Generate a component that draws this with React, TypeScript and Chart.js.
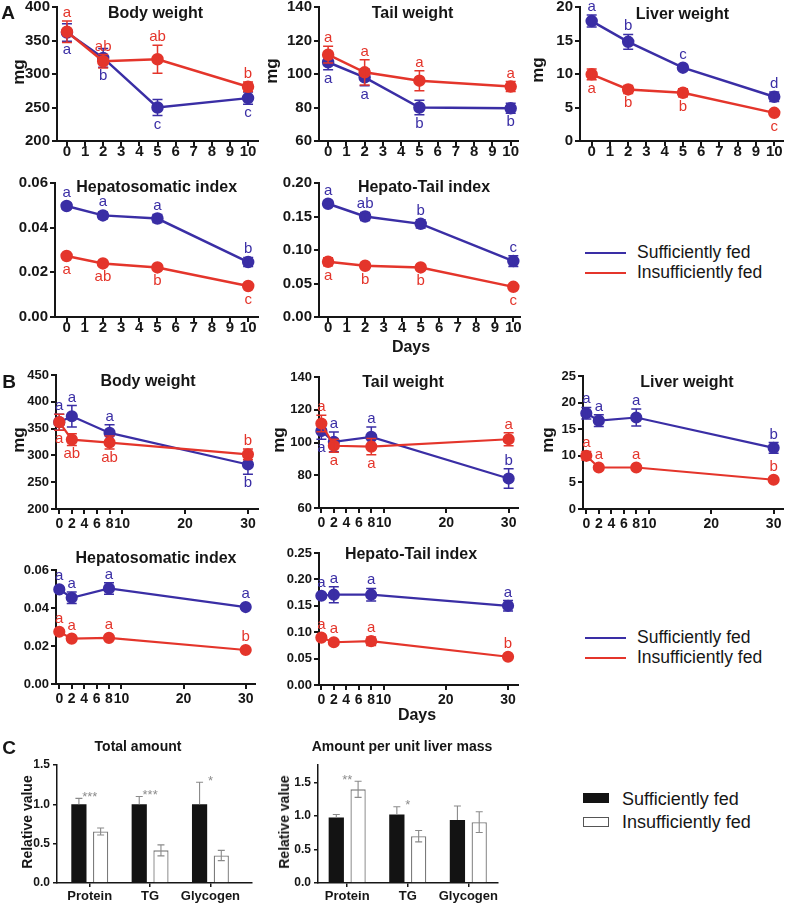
import React, { useEffect, useRef } from 'react';
import { Chart, registerables } from 'chart.js';

Chart.register(...registerables);

const FONT = '"Liberation Sans", Arial, Helvetica, sans-serif';
Chart.defaults.font.family = FONT;
const BLUE = '#3a2ea5';
const RED = '#e4352b';
const INK = '#161616';

// ---------------- data ----------------
const daysA = [0, 2, 5, 10];
const daysB = [0, 2, 8, 30];
const xTicksA = [0, 1, 2, 3, 4, 5, 6, 7, 8, 9, 10];
const xTicksB = [0, 2, 4, 6, 8, 10, 20, 30];

const yTicksBodyA = [200, 250, 300, 350, 400];
const yTicksTail = [60, 80, 100, 120, 140];
const yTicksLiverA = [0, 5, 10, 15, 20];
const yTicksHsi = [0, 0.02, 0.04, 0.06];
const yTicksHtiA = [0, 0.05, 0.1, 0.15, 0.2];
const yTicksBodyB = [200, 250, 300, 350, 400, 450];
const yTicksLiverB = [0, 5, 10, 15, 20, 25];
const yTicksHtiB = [0, 0.05, 0.1, 0.15, 0.2, 0.25];
const yTicksBar = [0, 0.5, 1.0, 1.5];

// A – body weight
const bodyA_suf = [362, 324, 250, 264];
const bodyA_sufErr = [13, 14, 12, 9];
const bodyA_sufLet = ['a', 'b', 'c', 'c'];
const bodyA_sufPos = ['d', 'd', 'd', 'd'];
const bodyA_ins = [363, 319, 322, 281];
const bodyA_insErr = [16, 10, 21, 7];
const bodyA_insLet = ['a', 'ab', 'ab', 'b'];
const bodyA_insPos = ['u', 'u', 'u', 'u'];
// A – tail weight
const tailA_suf = [107, 98, 80, 79.5];
const tailA_sufErr = [4.4, 5, 4.4, 3];
const tailA_sufLet = ['a', 'a', 'b', 'b'];
const tailA_sufPos = ['d', 'd', 'd', 'd'];
const tailA_ins = [111.5, 101, 96, 92.5];
const tailA_insErr = [5, 7.5, 6, 3];
const tailA_insLet = ['a', 'a', 'a', 'a'];
const tailA_insPos = ['u', 'u', 'u', 'u'];
// A – liver weight
const liverA_suf = [17.9, 14.8, 10.95, 6.6];
const liverA_sufErr = [0.9, 1.1, 0.4, 0.7];
const liverA_sufLet = ['a', 'b', 'c', 'd'];
const liverA_sufPos = ['u', 'u', 'u', 'u'];
const liverA_ins = [9.95, 7.7, 7.2, 4.2];
const liverA_insErr = [0.8, 0.6, 0.6, 0.3];
const liverA_insLet = ['a', 'b', 'b', 'c'];
const liverA_insPos = ['d', 'd', 'd', 'd'];
// A – hepatosomatic index
const hsiA_suf = [0.0497, 0.0455, 0.0441, 0.0246];
const hsiA_sufErr = [0.0015, 0.0015, 0.0018, 0.002];
const hsiA_sufLet = ['a', 'a', 'a', 'b'];
const hsiA_sufPos = ['u', 'u', 'u', 'u'];
const hsiA_ins = [0.0273, 0.024, 0.0222, 0.0139];
const hsiA_insErr = [0.0008, 0.0006, 0.0006, 0.0005];
const hsiA_insLet = ['a', 'ab', 'b', 'c'];
const hsiA_insPos = ['d', 'd', 'd', 'd'];
// A – hepato-tail index
const htiA_suf = [0.169, 0.15, 0.139, 0.0835];
const htiA_sufErr = [0.004, 0.006, 0.006, 0.008];
const htiA_sufLet = ['a', 'ab', 'b', 'c'];
const htiA_sufPos = ['u', 'u', 'u', 'u'];
const htiA_ins = [0.0825, 0.0765, 0.074, 0.045];
const htiA_insErr = [0.006, 0.003, 0.003, 0.003];
const htiA_insLet = ['a', 'b', 'b', 'c'];
const htiA_insPos = ['d', 'd', 'd', 'd'];

// B – body weight
const bodyB_suf = [362, 373, 342, 283];
const bodyB_sufErr = [15, 20, 15, 18];
const bodyB_sufLet = ['a', 'a', 'a', 'b'];
const bodyB_sufPos = ['u', 'u', 'u', 'd'];
const bodyB_ins = [362, 329.5, 324, 302];
const bodyB_insErr = [15, 11, 12, 10];
const bodyB_insLet = ['a', 'ab', 'ab', 'b'];
const bodyB_insPos = ['d', 'd', 'd', 'u'];
// B – tail weight
const tailB_suf = [107, 100.4, 103.4, 78];
const tailB_sufErr = [5, 6, 6, 6];
const tailB_sufLet = ['a', 'a', 'a', 'b'];
const tailB_sufPos = ['d', 'u', 'u', 'u'];
const tailB_ins = [111.6, 98, 97.5, 102];
const tailB_insErr = [5, 4, 5, 4];
const tailB_insLet = ['a', 'a', 'a', 'a'];
const tailB_insPos = ['u', 'd', 'd', 'u'];
// B – liver weight
const liverB_suf = [18, 16.6, 17.2, 11.5];
const liverB_sufErr = [1.1, 1.1, 1.6, 1.0];
const liverB_sufLet = ['a', 'a', 'a', 'b'];
const liverB_sufPos = ['u', 'u', 'u', 'u'];
const liverB_ins = [10, 7.8, 7.8, 5.5];
const liverB_insErr = [0.8, 0.3, 0.3, 0.3];
const liverB_insLet = ['a', 'a', 'a', 'b'];
const liverB_insPos = ['u', 'u', 'u', 'u'];
// B – hepatosomatic index
const hsiB_suf = [0.0498, 0.0454, 0.0503, 0.0405];
const hsiB_sufErr = [0.001, 0.003, 0.003, 0.001];
const hsiB_sufLet = ['a', 'a', 'a', 'a'];
const hsiB_sufPos = ['u', 'u', 'u', 'u'];
const hsiB_ins = [0.0275, 0.0239, 0.0243, 0.0179];
const hsiB_insErr = [0.0008, 0.0006, 0.0006, 0.0005];
const hsiB_insLet = ['a', 'a', 'a', 'b'];
const hsiB_insPos = ['u', 'u', 'u', 'u'];
// B – hepato-tail index
const htiB_suf = [0.169, 0.171, 0.171, 0.15];
const htiB_sufErr = [0.004, 0.015, 0.012, 0.01];
const htiB_sufLet = ['a', 'a', 'a', 'a'];
const htiB_sufPos = ['u', 'u', 'u', 'u'];
const htiB_ins = [0.0898, 0.081, 0.083, 0.0535];
const htiB_insErr = [0.004, 0.003, 0.008, 0.002];
const htiB_insLet = ['a', 'a', 'a', 'b'];
const htiB_insPos = ['u', 'u', 'u', 'u'];

// C – bars
const barCats = ['Protein', 'TG', 'Glycogen'];
const total_suf = [1.0, 1.0, 1.0];
const total_sufErr = [0.076, 0.1, 0.28];
const total_ins = [0.655, 0.415, 0.35];
const total_insErr = [0.045, 0.07, 0.065];
const total_stars = ['***', '***', '*'];
const per_suf = [0.98, 1.025, 0.94];
const per_sufErr = [0.045, 0.115, 0.21];
const per_ins = [1.4, 0.7, 0.91];
const per_insErr = [0.12, 0.085, 0.155];
const per_stars = ['**', '*', ''];

// ---------------- plugin ----------------
const annotPlugin: any = {
  id: 'annot',
  afterDatasetDraw(chart: any, args: any) {
    const ds = chart.data.datasets[args.index];
    if (!ds.errors) return;
    const ys = chart.scales.y;
    const ctx = chart.ctx;
    ctx.save();
    ctx.strokeStyle = ds.errColor;
    ctx.lineWidth = ds.errWidth;
    args.meta.data.forEach((el: any, i: number) => {
      const v = ds.data[i].y;
      const e = ds.errors[i];
      const x = el.x;
      const yt = ys.getPixelForValue(v + e);
      const yb = ys.getPixelForValue(v - e);
      const yc = ys.getPixelForValue(v);
      const cw = ds.capHalf;
      ctx.beginPath();
      ctx.moveTo(x, yt);
      ctx.lineTo(x, ds.errMode === 'up' ? yc : yb);
      ctx.moveTo(x - cw, yt);
      ctx.lineTo(x + cw, yt);
      if (ds.errMode !== 'up') {
        ctx.moveTo(x - cw, yb);
        ctx.lineTo(x + cw, yb);
      }
      ctx.stroke();
    });
    ctx.restore();
  },
  afterDatasetsDraw(chart: any, _a: any, opts: any) {
    const ctx = chart.ctx;
    const ys = chart.scales.y;
    const xs = chart.scales.x;
    ctx.save();
    chart.data.datasets.forEach((ds: any, di: number) => {
      if (!ds.letters) return;
      const meta = chart.getDatasetMeta(di);
      ctx.font = `${opts.letterSize || 15}px ${FONT}`;
      ctx.textAlign = 'center';
      ctx.textBaseline = 'alphabetic';
      ctx.fillStyle = ds.borderColor;
      meta.data.forEach((el: any, i: number) => {
        const v = ds.data[i].y;
        const e = ds.errors[i];
        const r = ds.pointRadius || 0;
        const yc = ys.getPixelForValue(v);
        if (ds.letterPos[i] === 'u') {
          const top = Math.min(ys.getPixelForValue(v + e), yc - r);
          ctx.fillText(ds.letters[i], el.x, top - 4);
        } else {
          const bot = Math.max(ys.getPixelForValue(v - e), yc + r);
          ctx.fillText(ds.letters[i], el.x, bot + 13);
        }
      });
    });
    if (opts.stars) {
      ctx.font = `13px ${FONT}`;
      ctx.fillStyle = '#8c8c8c';
      ctx.textAlign = 'center';
      ctx.textBaseline = 'alphabetic';
      opts.stars.forEach((s: string, i: number) => {
        if (!s) return;
        let top = Infinity;
        chart.data.datasets.forEach((ds: any) => {
          top = Math.min(top, ys.getPixelForValue(ds.data[i].y + ds.errors[i]));
        });
        const x = xs.getPixelForValue(i + 1);
        ctx.fillText(s, x, top - 5 + 7.5);
      });
    }
    ctx.restore();
  },
};

// ---------------- chart builders ----------------
type Ser = { values: number[]; errors: number[]; letters: string[]; pos: string[]; color: string };
type Frame = { l: number; t: number; r: number; b: number };
type LineSpec = {
  frame: Frame; days: number[]; xMin: number; xMax: number; xTicks: number[];
  yMin: number; yMax: number; yTicks: number[]; dec: number;
  yFont: number; xFont: number; xPad: number; radius: number; lw: number; series: Ser[];
};

const YW = 54, PT = 14, PR = 14, XH = 34;

function rectOf(f: Frame) {
  return { left: f.l - YW, top: f.t - PT, width: f.r - f.l + YW + PR, height: f.b - f.t + PT + XH };
}

function axisCommon(lw: number, tl: number) {
  return {
    grid: { display: true, drawOnChartArea: false, drawTicks: true, tickLength: tl, color: INK, lineWidth: lw, offset: false },
    border: { display: true, color: INK, width: lw },
  };
}

function lineConfig(s: LineSpec) {
  return {
    type: 'line',
    data: {
      datasets: s.series.map((se) => ({
        data: s.days.map((d, i) => ({ x: d, y: se.values[i] })),
        borderColor: se.color,
        backgroundColor: se.color,
        pointBackgroundColor: se.color,
        pointBorderColor: se.color,
        pointRadius: s.radius,
        borderWidth: s.lw,
        tension: 0,
        clip: false,
        errors: se.errors,
        errColor: se.color,
        errWidth: 1.5,
        capHalf: 5,
        errMode: 'both',
        letters: se.letters,
        letterPos: se.pos,
      })),
    },
    options: {
      animation: false,
      responsive: false,
      layout: { padding: { left: 0, top: PT, right: PR, bottom: 0 } },
      plugins: { legend: { display: false }, tooltip: { enabled: false }, title: { display: false }, annot: { letterSize: 15 } },
      scales: {
        x: {
          type: 'linear', min: s.xMin, max: s.xMax, offset: false,
          afterBuildTicks: (sc: any) => { sc.ticks = s.xTicks.map((v) => ({ value: v })); },
          afterFit: (sc: any) => { sc.height = XH; },
          ticks: { autoSkip: false, maxRotation: 0, minRotation: 0, padding: s.xPad, color: INK, font: { size: s.xFont, weight: 'bold', family: FONT }, callback: (v: any) => String(v) },
          ...axisCommon(2, 5),
        },
        y: {
          type: 'linear', min: s.yMin, max: s.yMax,
          afterBuildTicks: (sc: any) => { sc.ticks = s.yTicks.map((v) => ({ value: v })); },
          afterFit: (sc: any) => { sc.width = YW; },
          ticks: { autoSkip: false, padding: 2, color: INK, font: { size: s.yFont, weight: 'bold', family: FONT }, callback: (v: any) => Number(v).toFixed(s.dec) },
          ...axisCommon(2, 5),
        },
      },
    },
    plugins: [annotPlugin],
  };
}

type BarSpec = { frame: Frame; xMin: number; xMax: number; yMax: number; suf: number[]; sufErr: number[]; ins: number[]; insErr: number[]; stars: string[] };

function barConfig(s: BarSpec) {
  return {
    type: 'bar',
    data: {
      datasets: [
        {
          data: barCats.map((_, i) => ({ x: i + 1, y: s.suf[i] })),
          backgroundColor: '#131313', borderColor: '#131313', borderWidth: 0,
          errors: s.sufErr, errColor: '#8a8a8a', errWidth: 1.1, capHalf: 3.5, errMode: 'up',
        },
        {
          data: barCats.map((_, i) => ({ x: i + 1, y: s.ins[i] })),
          backgroundColor: '#ffffff', borderColor: '#7a7a7a', borderWidth: 1.3,
          errors: s.insErr, errColor: '#8a8a8a', errWidth: 1.1, capHalf: 3.5, errMode: 'both',
        },
      ],
    },
    options: {
      animation: false,
      responsive: false,
      categoryPercentage: 0.72,
      barPercentage: 0.7,
      layout: { padding: { left: 0, top: PT, right: PR, bottom: 0 } },
      plugins: { legend: { display: false }, tooltip: { enabled: false }, title: { display: false }, annot: { stars: s.stars } },
      scales: {
        x: {
          type: 'linear', min: s.xMin, max: s.xMax, offset: false,
          afterBuildTicks: (sc: any) => { sc.ticks = barCats.map((_, i) => ({ value: i + 1 })); },
          afterFit: (sc: any) => { sc.height = XH; },
          ticks: { autoSkip: false, maxRotation: 0, minRotation: 0, padding: 2, color: INK, font: { size: 13, weight: 'bold', family: FONT }, callback: (v: any) => barCats[Math.round(v) - 1] },
          ...axisCommon(1.5, 4),
        },
        y: {
          type: 'linear', min: 0, max: s.yMax,
          afterBuildTicks: (sc: any) => { sc.ticks = yTicksBar.map((v) => ({ value: v })); },
          afterFit: (sc: any) => { sc.width = YW; },
          ticks: { autoSkip: false, padding: 3, color: INK, font: { size: 12, weight: 'bold', family: FONT }, callback: (v: any) => Number(v).toFixed(1) },
          ...axisCommon(1.5, 4),
        },
      },
    },
    plugins: [annotPlugin],
  };
}

// ---------------- specs ----------------
const ser = (values: number[], errors: number[], letters: string[], pos: string[], color: string): Ser => ({ values, errors, letters, pos, color });

const lineSpecs: LineSpec[] = [
  { frame: { l: 57, t: 7, r: 258, b: 141 }, days: daysA, xMin: -0.55, xMax: 10.55, xTicks: xTicksA, yMin: 200, yMax: 400, yTicks: yTicksBodyA, dec: 0, yFont: 15, xFont: 15, xPad: -3, radius: 5, lw: 2.5,
    series: [ser(bodyA_ins, bodyA_insErr, bodyA_insLet, bodyA_insPos, RED), ser(bodyA_suf, bodyA_sufErr, bodyA_sufLet, bodyA_sufPos, BLUE)] },
  { frame: { l: 319, t: 7, r: 518, b: 141 }, days: daysA, xMin: -0.5, xMax: 10.4, xTicks: xTicksA, yMin: 60, yMax: 140, yTicks: yTicksTail, dec: 0, yFont: 15, xFont: 15, xPad: -3, radius: 5, lw: 2.5,
    series: [ser(tailA_ins, tailA_insErr, tailA_insLet, tailA_insPos, RED), ser(tailA_suf, tailA_sufErr, tailA_sufLet, tailA_sufPos, BLUE)] },
  { frame: { l: 580, t: 7, r: 783, b: 141 }, days: daysA, xMin: -0.64, xMax: 10.48, xTicks: xTicksA, yMin: 0, yMax: 20, yTicks: yTicksLiverA, dec: 0, yFont: 15, xFont: 15, xPad: -3, radius: 5, lw: 2.5,
    series: [ser(liverA_ins, liverA_insErr, liverA_insLet, liverA_insPos, RED), ser(liverA_suf, liverA_sufErr, liverA_sufLet, liverA_sufPos, BLUE)] },
  { frame: { l: 55, t: 183, r: 258, b: 317 }, days: daysA, xMin: -0.64, xMax: 10.54, xTicks: xTicksA, yMin: 0, yMax: 0.06, yTicks: yTicksHsi, dec: 2, yFont: 15, xFont: 15, xPad: -3, radius: 5, lw: 2.5,
    series: [ser(hsiA_ins, hsiA_insErr, hsiA_insLet, hsiA_insPos, RED), ser(hsiA_suf, hsiA_sufErr, hsiA_sufLet, hsiA_sufPos, BLUE)] },
  { frame: { l: 319, t: 183, r: 520, b: 317 }, days: daysA, xMin: -0.49, xMax: 10.36, xTicks: xTicksA, yMin: 0, yMax: 0.2, yTicks: yTicksHtiA, dec: 2, yFont: 15, xFont: 15, xPad: -3, radius: 5, lw: 2.5,
    series: [ser(htiA_ins, htiA_insErr, htiA_insLet, htiA_insPos, RED), ser(htiA_suf, htiA_sufErr, htiA_sufLet, htiA_sufPos, BLUE)] },
  { frame: { l: 56, t: 375, r: 258, b: 509 }, days: daysB, xMin: -0.52, xMax: 31.6, xTicks: xTicksB, yMin: 200, yMax: 450, yTicks: yTicksBodyB, dec: 0, yFont: 13, xFont: 14, xPad: 2, radius: 5, lw: 2.2,
    series: [ser(bodyB_ins, bodyB_insErr, bodyB_insLet, bodyB_insPos, RED), ser(bodyB_suf, bodyB_sufErr, bodyB_sufLet, bodyB_sufPos, BLUE)] },
  { frame: { l: 319, t: 377, r: 518, b: 508 }, days: daysB, xMin: -0.38, xMax: 31.5, xTicks: xTicksB, yMin: 60, yMax: 140, yTicks: yTicksTail, dec: 0, yFont: 13, xFont: 14, xPad: 2, radius: 5, lw: 2.2,
    series: [ser(tailB_ins, tailB_insErr, tailB_insLet, tailB_insPos, RED), ser(tailB_suf, tailB_sufErr, tailB_sufLet, tailB_sufPos, BLUE)] },
  { frame: { l: 583, t: 376, r: 783, b: 509 }, days: daysB, xMin: -0.53, xMax: 31.5, xTicks: xTicksB, yMin: 0, yMax: 25, yTicks: yTicksLiverB, dec: 0, yFont: 13, xFont: 14, xPad: 2, radius: 5, lw: 2.2,
    series: [ser(liverB_ins, liverB_insErr, liverB_insLet, liverB_insPos, RED), ser(liverB_suf, liverB_sufErr, liverB_sufLet, liverB_sufPos, BLUE)] },
  { frame: { l: 56, t: 570, r: 255, b: 684 }, days: daysB, xMin: -0.53, xMax: 31.5, xTicks: xTicksB, yMin: 0, yMax: 0.06, yTicks: yTicksHsi, dec: 2, yFont: 13, xFont: 14, xPad: 2, radius: 5, lw: 2.2,
    series: [ser(hsiB_ins, hsiB_insErr, hsiB_insLet, hsiB_insPos, RED), ser(hsiB_suf, hsiB_sufErr, hsiB_sufLet, hsiB_sufPos, BLUE)] },
  { frame: { l: 319, t: 553, r: 518, b: 685 }, days: daysB, xMin: -0.38, xMax: 31.6, xTicks: xTicksB, yMin: 0, yMax: 0.25, yTicks: yTicksHtiB, dec: 2, yFont: 13, xFont: 14, xPad: 2, radius: 5, lw: 2.2,
    series: [ser(htiB_ins, htiB_insErr, htiB_insLet, htiB_insPos, RED), ser(htiB_suf, htiB_sufErr, htiB_sufLet, htiB_sufPos, BLUE)] },
];

const barSpecs: BarSpec[] = [
  { frame: { l: 57, t: 765, r: 252, b: 883 }, xMin: 0.457, xMax: 3.689, yMax: 1.5, suf: total_suf, sufErr: total_sufErr, ins: total_ins, insErr: total_insErr, stars: total_stars },
  { frame: { l: 318, t: 765, r: 498, b: 883 }, xMin: 0.518, xMax: 3.49, yMax: 1.764, suf: per_suf, sufErr: per_sufErr, ins: per_ins, insErr: per_insErr, stars: per_stars },
];

// ---------------- components ----------------
function ChartBox({ frame, make }: { frame: Frame; make: () => any }) {
  const ref = useRef<HTMLCanvasElement>(null);
  const r = rectOf(frame);
  useEffect(() => {
    const c = new Chart(ref.current as HTMLCanvasElement, make());
    return () => c.destroy();
  }, []);
  return (
    <canvas ref={ref} width={r.width} height={r.height}
      style={{ position: 'absolute', left: r.left, top: r.top, width: r.width, height: r.height }} />
  );
}

function T({ x, y, text, size, bold = true, rotate = false, left = false }: { x: number; y: number; text: string; size: number; bold?: boolean; rotate?: boolean; left?: boolean }) {
  const tf = (left ? 'translate(0,-50%)' : 'translate(-50%,-50%)') + (rotate ? ' rotate(-90deg)' : '');
  return (
    <div style={{ position: 'absolute', left: x, top: y, transform: tf, font: `${bold ? 'bold ' : ''}${size}px ${FONT}`, lineHeight: 1, whiteSpace: 'nowrap', color: INK }}>
      {text}
    </div>
  );
}

function LineLegend({ y }: { y: number }) {
  const item = (yy: number, color: string, label: string) => (
    <React.Fragment key={label}>
      <div style={{ position: 'absolute', left: 585, top: yy - 1.25, width: 41, height: 2.5, background: color }} />
      <T x={637} y={yy} text={label} size={17.5} bold={false} left />
    </React.Fragment>
  );
  return <>{item(y, BLUE, 'Sufficiently fed')}{item(y + 20, RED, 'Insufficiently fed')}</>;
}

function BarLegend() {
  return (
    <>
      <div style={{ position: 'absolute', left: 583, top: 793, width: 26, height: 10, background: '#131313' }} />
      <T x={622} y={799} text="Sufficiently fed" size={18} bold={false} left />
      <div style={{ position: 'absolute', left: 583, top: 817, width: 24, height: 8, background: '#fff', border: '1px solid #555' }} />
      <T x={622} y={822} text="Insufficiently fed" size={18} bold={false} left />
    </>
  );
}

export default function App() {
  return (
    <div style={{ position: 'absolute', left: 0, top: 0, width: 787, height: 903, background: '#fff', overflow: 'hidden' }}>
      {lineSpecs.map((s, i) => <ChartBox key={'l' + i} frame={s.frame} make={() => lineConfig(s)} />)}
      {barSpecs.map((s, i) => <ChartBox key={'b' + i} frame={s.frame} make={() => barConfig(s)} />)}

      <T x={8} y={12} text="A" size={19} />
      <T x={9} y={381} text="B" size={19} />
      <T x={9} y={747} text="C" size={19} />

      <T x={155.5} y={13} text="Body weight" size={16} />
      <T x={412.5} y={13} text="Tail weight" size={16} />
      <T x={682.5} y={14} text="Liver weight" size={16} />
      <T x={156.7} y={187} text="Hepatosomatic index" size={16} />
      <T x={424} y={187} text="Hepato-Tail index" size={16} />
      <T x={148} y={381} text="Body weight" size={16} />
      <T x={403} y={382} text="Tail weight" size={16} />
      <T x={687} y={382} text="Liver weight" size={16} />
      <T x={156} y={558} text="Hepatosomatic index" size={16} />
      <T x={411} y={554} text="Hepato-Tail index" size={16} />
      <T x={138} y={746} text="Total amount" size={14} />
      <T x={402} y={746} text="Amount per unit liver mass" size={14} />

      <T x={18} y={72} text="mg" size={17} rotate />
      <T x={271} y={71} text="mg" size={17} rotate />
      <T x={537} y={70} text="mg" size={17} rotate />
      <T x={18} y={440} text="mg" size={17} rotate />
      <T x={278} y={440} text="mg" size={17} rotate />
      <T x={547} y={440} text="mg" size={17} rotate />
      <T x={411} y={346.5} text="Days" size={16} />
      <T x={417} y={715} text="Days" size={16} />
      <T x={26.7} y={821.7} text="Relative value" size={14} rotate />
      <T x={284} y={821.7} text="Relative value" size={14} rotate />

      <LineLegend y={253} />
      <LineLegend y={638} />
      <BarLegend />
    </div>
  );
}
